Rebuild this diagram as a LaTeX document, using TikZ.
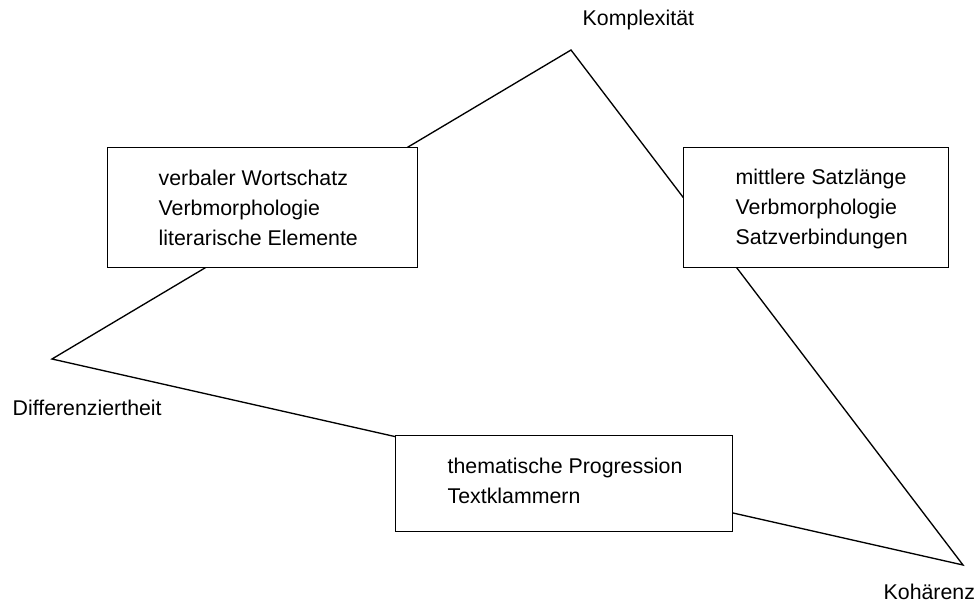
\documentclass[tikz,border=0pt]{standalone}
\usepackage{fontspec}
\setmainfont{Liberation Sans}
\begin{document}
\begin{tikzpicture}[x=0.75pt,y=-0.75pt,line width=1pt,
  box/.style={draw,fill=white,anchor=north west,inner sep=0pt},
  txt/.style={font=\fontsize{16}{22.5}\selectfont,align=left,inner sep=0pt,anchor=west},
  lbl/.style={font=\fontsize{16}{19}\selectfont,inner sep=0pt,anchor=west}]
\useasboundingbox (0,0) rectangle (979,604);
\coordinate (K) at (571,50);
\coordinate (D) at (52,359);
\coordinate (C) at (963,565);
\draw[line join=miter] (K) -- (D) -- (C) -- cycle;
\node[box,minimum width=232.5pt,minimum height=90pt] (b1) at (107,147) {};
\node[box,minimum width=198.75pt,minimum height=90pt] (b2) at (683,147) {};
\node[box,minimum width=252.75pt,minimum height=72pt] (b3) at (395,435) {};
\node[txt] (t1) at (158,208) {verbaler Wortschatz\\Verbmorphologie\\literarische Elemente};
\node[txt] (t2) at (735,209) {mittlere Satzlänge\\Verbmorphologie\\Satzverbindungen};
\node[txt] (t3) at (447,481) {thematische Progression\\Textklammern};
\node[lbl] (lk) at (582,20) {Komplexität};
\node[lbl] (ld) at (12,408) {Differenziertheit};
\node[lbl] (lc) at (883,592) {Kohärenz};
\end{tikzpicture}
\end{document}
